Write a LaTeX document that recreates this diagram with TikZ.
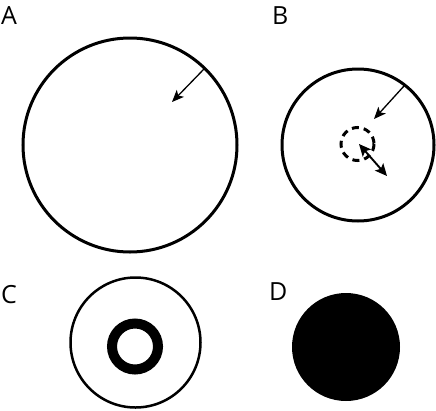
\documentclass[tikz,border=0pt]{standalone}
\usepackage{fontspec}
\setmainfont{Open Sans}
\usetikzlibrary{arrows.meta}
\begin{document}
\begin{tikzpicture}[x=1pt,y=-1pt,
  lbl/.style={anchor=base west,inner sep=0pt,font=\fontsize{25}{25}\selectfont},
  ring/.style={draw,line width=3pt},
  thinarrow/.style={line width=1.3pt,-{Stealth[length=12pt,width=10pt,inset=3pt]}},
  dblarrow/.style={line width=1.9pt,{Stealth[length=12pt,width=11pt,inset=2.5pt]}-{Stealth[length=12pt,width=11pt,inset=2.5pt]}}]
\useasboundingbox (0,0) rectangle (436,410);
% A
\node[lbl] (la) at (1,24) {A};
\draw[ring] (130,145) circle[radius=107];
\coordinate (a1) at (204,69);
\coordinate (a2) at (172,102);
\draw[thinarrow] (a1) -- (a2);
% B
\node[lbl] (lb) at (272,24) {B};
\draw[ring] (358,145) circle[radius=76];
\coordinate (b1) at (404,86);
\coordinate (b2) at (374,119);
\draw[thinarrow] (b1) -- (b2);
\draw[line width=3pt,dash pattern=on 7pt off 5pt] (357.5,144) circle[radius=16.5];
\coordinate (b3) at (359,144);
\coordinate (b4) at (387,176);
\draw[dblarrow] (b3) -- (b4);
% C
\node[lbl] (lc) at (1,303) {C};
\draw[draw,line width=2.5pt] (135.5,342.5) circle[radius=65];
\draw[line width=10pt] (135,346.5) circle[radius=23];
% D
\node[lbl] (ld) at (269,300) {D};
\fill (346,347) circle[radius=54];
\end{tikzpicture}
\end{document}
